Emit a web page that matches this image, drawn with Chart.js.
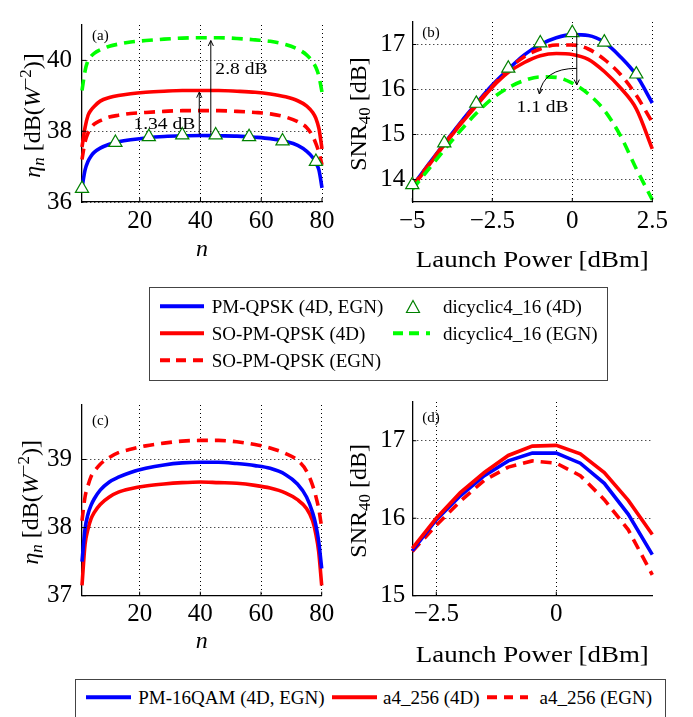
<!DOCTYPE html>
<html>
<head>
<meta charset="utf-8">
<script src="https://cdn.jsdelivr.net/npm/chart.js@4.4.1/dist/chart.umd.min.js"></script>
<style>
body{margin:0;background:#fff;}
#wrap{position:relative;width:693px;height:717px;overflow:hidden;font-family:"Liberation Serif",serif;}
canvas{position:absolute;}
.box{position:absolute;border:1px solid #444;box-sizing:border-box;}
.lt{position:absolute;font-size:19px;line-height:1;white-space:nowrap;transform:translateY(-50%);color:#000;}
.ls{position:absolute;height:3.5px;transform:translateY(-50%);}
</style>
</head>
<body>
<div id="wrap">
<canvas id="cA" width="340" height="280" style="left:0;top:0"></canvas>
<canvas id="cB" width="353" height="280" style="left:340px;top:0"></canvas>
<canvas id="cC" width="340" height="290" style="left:0;top:380px"></canvas>
<canvas id="cD" width="353" height="290" style="left:340px;top:380px"></canvas>
<div class="box" style="left:149px;top:287px;width:459px;height:94px"></div>
<div class="box" style="left:75px;top:679px;width:591px;height:60px"></div>
</div>
<script>
const FONT = 'Liberation Serif'

// (a) eta_n vs channel index
const nA = [1,2,3,4,5,7,10,13,17,22,28,34,40,46,52,58,63,68,72,75,77,78,79,80]
const etaPmQpsk = [36.4,36.9,37.15,37.3,37.4,37.52,37.63,37.7,37.76,37.81,37.85,37.87,37.88,37.87,37.86,37.83,37.79,37.71,37.6,37.43,37.25,37.1,36.9,36.4]
const etaSo4D = [37.55,38.1,38.45,38.6,38.7,38.85,38.95,39.01,39.06,39.1,39.13,39.15,39.15,39.15,39.13,39.1,39.05,38.97,38.86,38.71,38.52,38.36,38.07,37.5]
const etaSoEgn = [37.2,37.7,37.95,38.1,38.2,38.3,38.4,38.45,38.5,38.53,38.56,38.58,38.58,38.58,38.56,38.53,38.49,38.4,38.27,38.1,37.85,37.65,37.4,37.05]
const etaDiEgn = [39.15,39.7,40.0,40.12,40.2,40.3,40.4,40.46,40.52,40.56,40.6,40.63,40.64,40.64,40.62,40.58,40.54,40.45,40.32,40.15,39.95,39.8,39.55,39.1]
const nMarks = [1,12,23,34,45,56,67,78]
const etaDi4D = [36.38,37.68,37.84,37.89,37.89,37.84,37.72,37.14]

// (b) SNR vs launch power
const powB = [-5,-4.5,-4,-3.5,-3,-2.5,-2,-1.5,-1,-0.5,0,0.5,1,1.5,2,2.5]
const snrPmQpsk = [13.85,14.33,14.8,15.26,15.69,16.1,16.45,16.77,17.0,17.15,17.22,17.2,17.05,16.73,16.32,15.7]
const snrSo4D = [13.82,14.3,14.77,15.22,15.64,16.05,16.38,16.6,16.75,16.8,16.78,16.67,16.4,16.04,15.57,14.68]
const snrSoEgn = [13.85,14.32,14.79,15.24,15.67,16.07,16.45,16.73,16.9,16.99,16.99,16.9,16.67,16.34,15.87,15.27]
const snrDiEgn = [13.78,14.22,14.66,15.08,15.47,15.8,16.04,16.2,16.28,16.27,16.14,15.9,15.54,14.98,14.24,13.55]
const powMarks = [-5,-4,-3,-2,-1,0,1,2]
const snrDi4D = [13.88,14.81,15.69,16.47,17.03,17.26,17.05,16.34]

// (c) eta_n, 16QAM family
const etaPm16 = [37.5,37.98,38.2,38.33,38.42,38.55,38.67,38.74,38.81,38.87,38.92,38.95,38.96,38.96,38.94,38.91,38.87,38.78,38.64,38.45,38.22,38.05,37.8,37.4]
const etaA44D = [37.15,37.75,37.98,38.13,38.22,38.34,38.45,38.52,38.57,38.61,38.64,38.66,38.67,38.66,38.65,38.62,38.58,38.51,38.41,38.28,38.1,37.92,37.65,37.15]
const etaA4Egn = [38.1,38.45,38.62,38.75,38.82,38.93,39.03,39.1,39.15,39.2,39.24,39.27,39.28,39.28,39.26,39.22,39.17,39.09,38.99,38.83,38.62,38.47,38.28,38.0]

// (d) SNR, 16QAM family
const powD = [-3,-2.5,-2,-1.5,-1,-0.5,0,0.5,1,1.5,2]
const snrPm16 = [15.58,15.98,16.29,16.55,16.74,16.84,16.84,16.71,16.45,16.05,15.53]
const snrA44D = [15.61,16.0,16.33,16.59,16.81,16.93,16.94,16.83,16.59,16.23,15.79]
const snrA4Egn = [15.57,15.91,16.22,16.49,16.66,16.74,16.71,16.55,16.24,15.85,15.27]

// tick values
const ticksNx = [20,40,60,80]
const ticksAy = [36,38,40]
const ticksBx = [-5,-2.5,0,2.5]
const ticksBy = [14,15,16,17]
const ticksCy = [37,38,39]
const ticksDx = [-2.5,0]
const ticksDy = [15,16,17]

const legendTop = ['PM-QPSK (4D, EGN)','SO-PM-QPSK (4D)','SO-PM-QPSK (EGN)','dicyclic4_16 (4D)','dicyclic4_16 (EGN)']
const legendBottom = ['PM-16QAM (4D, EGN)','a4_256 (4D)','a4_256 (EGN)']

const BLUE = '#0000ff', RED = '#ff0000', LGREEN = '#00ff00', DGREEN = '#008000'

function pts(xs, ys) { return xs.map((x, i) => ({x: x, y: ys[i]})) }

function linha(label, xs, ys, cor, tracejada, ordem, reta) {
    return {
        label: label, data: pts(xs, ys), borderColor: cor, borderWidth: 3.6,
        borderDash: tracejada ? [11, 7] : [], pointRadius: 0, fill: false,
        cubicInterpolationMode: reta ? 'default' : 'monotone', tension: 0,
        clip: false, order: ordem
    }
}

function marcas(label, xs, ys) {
    return {
        label: label, data: pts(xs, ys), showLine: false, pointStyle: 'triangle',
        pointRadius: 7.6, pointBackgroundColor: '#fff', pointBorderColor: DGREEN,
        pointBorderWidth: 1.2, clip: false, order: 0
    }
}

function fmt(v) { return v < 0 ? '\u2212' + Math.abs(v) : String(v) }

function eixos(xMin, xMax, xTicks, yMin, yMax, yTicks, largura, altura, padY) {
    const base = () => ({
        type: 'linear',
        grid: {color: '#000', lineWidth: 1, drawTicks: false},
        border: {display: true, color: '#000', width: 1.3, dash: [1, 3]},
    })
    const tk = (pad) => ({font: {family: FONT, size: 25}, color: '#000', autoSkip: false, maxRotation: 0, minRotation: 0, padding: pad, callback: fmt})
    return {
        x: Object.assign(base(), {position: 'bottom', min: xMin, max: xMax, ticks: tk(4),
            afterBuildTicks: s => { s.ticks = xTicks.map(v => ({value: v})) },
            afterFit: s => { s.height = altura }}),
        y: Object.assign(base(), {position: 'left', min: yMin, max: yMax, ticks: tk(padY),
            afterBuildTicks: s => { s.ticks = yTicks.map(v => ({value: v})) },
            afterFit: s => { s.width = largura }})
    }
}

function fonte(p) { return (p.i ? 'italic ' : '') + Math.round((p.s || 1) * 24) + 'px ' + FONT }

function textoRico(ctx, partes, cx, cy, girar, esticar) {
    let w = 0
    partes.forEach(p => { ctx.font = fonte(p); p.w = ctx.measureText(p.t).width; w += p.w })
    ctx.save()
    ctx.translate(cx, cy)
    if (girar) ctx.rotate(-Math.PI / 2)
    ctx.scale(esticar || 1, 1)
    ctx.textAlign = 'left'
    ctx.textBaseline = 'alphabetic'
    let x = -w / 2
    partes.forEach(p => { ctx.font = fonte(p); ctx.fillText(p.t, x, 8 + (p.dy || 0)); x += p.w })
    ctx.restore()
}

function ponta(ctx, x1, y1, x2, y2) {
    const ang = Math.atan2(y2 - y1, x2 - x1), L = 6, a = 0.45
    ctx.beginPath()
    ctx.moveTo(x2 - L * Math.cos(ang - a), y2 - L * Math.sin(ang - a))
    ctx.lineTo(x2, y2)
    ctx.lineTo(x2 - L * Math.cos(ang + a), y2 - L * Math.sin(ang + a))
    ctx.stroke()
}

const decor = {
    id: 'decor',
    afterDraw(chart, args, o) {
        const ctx = chart.ctx, a = chart.chartArea
        const sx = chart.scales.x, sy = chart.scales.y
        const X = v => sx.getPixelForValue(v), Y = v => sy.getPixelForValue(v)
        ctx.save()
        ctx.fillStyle = '#000'
        ctx.strokeStyle = '#000'
        // pequenas marcas para dentro nos ticks principais
        ctx.lineWidth = 1
        ctx.beginPath()
        sx.ticks.forEach(t => { ctx.moveTo(X(t.value), a.bottom); ctx.lineTo(X(t.value), a.bottom - 4) })
        sy.ticks.forEach(t => { ctx.moveTo(a.left, Y(t.value)); ctx.lineTo(a.left + 4, Y(t.value)) })
        ctx.stroke()
        ctx.font = '15px ' + FONT
        ctx.textAlign = 'left'
        ctx.textBaseline = 'middle'
        ctx.fillText(o.painel, a.left + 10, a.top + o.painelDy)
        ;(o.notas || []).forEach(n => {
            if (n.seta) {
                const [x1, y1, x2, y2] = n.seta
                ctx.beginPath(); ctx.moveTo(X(x1), Y(y1)); ctx.lineTo(X(x2), Y(y2)); ctx.stroke()
                ponta(ctx, X(x1), Y(y1), X(x2), Y(y2))
            } else if (n.curva) {
                const [x1, y1, cx, cy, x2, y2] = n.curva
                ctx.beginPath(); ctx.moveTo(X(x1), Y(y1)); ctx.quadraticCurveTo(X(cx), Y(cy), X(x2), Y(y2)); ctx.stroke()
                ponta(ctx, X(cx), Y(cy), X(x2), Y(y2))
            } else if (n.texto) {
                ctx.save()
                ctx.translate(X(n.x), Y(n.y))
                ctx.scale(1.15, 1)
                ctx.font = '17px ' + FONT
                ctx.textAlign = n.alinha
                ctx.textBaseline = 'middle'
                ctx.fillText(n.texto, 0, 0)
                ctx.restore()
            }
        })
        textoRico(ctx, o.tituloY, a.left - o.tituloYDx, (a.top + a.bottom) / 2 + 2, true, 1)
        textoRico(ctx, o.tituloX, (a.left + a.right) / 2, a.bottom + o.tituloXDy, false, o.esticarX || 1)
        ctx.restore()
    }
}

const tituloEta = [{t: '\u03b7', i: true}, {t: 'n', i: true, s: 0.7, dy: 4}, {t: ' [dB('}, {t: 'W', i: true}, {t: '\u22122', s: 0.7, dy: -9}, {t: ')]'}]
const tituloSnr = [{t: 'SNR'}, {t: '40', s: 0.7, dy: 4}, {t: ' [dB]'}]
const tituloN = [{t: 'n', i: true}]
const tituloP = [{t: 'Launch Power [dBm]'}]

function grafico(id, datasets, scales, padding, decorOpts) {
    return new Chart(document.getElementById(id), {
        type: 'line',
        data: {datasets: datasets},
        options: {
            responsive: false, animation: false,
            layout: {padding: padding},
            scales: scales,
            plugins: {legend: {display: false}, tooltip: {enabled: false}, decor: decorOpts}
        },
        plugins: [decor]
    })
}

grafico('cA', [
    marcas(legendTop[3], nMarks, etaDi4D),
    linha(legendTop[4], nA, etaDiEgn, LGREEN, true, 1),
    linha(legendTop[2], nA, etaSoEgn, RED, true, 2),
    linha(legendTop[1], nA, etaSo4D, RED, false, 3),
    linha(legendTop[0], nA, etaPmQpsk, BLUE, false, 4)
], eixos(1, 80, ticksNx, 36, 41, ticksAy, 82, 78, 10), {top: 0, right: 18, left: 0, bottom: 0}, {
    painel: '(a)', painelDy: 11.5, tituloY: tituloEta, tituloYDx: 50, tituloX: tituloN, tituloXDy: 46,
    notas: [
        {seta: [39.6, 37.91, 39.6, 39.1]},
        {seta: [43.4, 37.91, 43.4, 40.56]},
        {texto: '1.34 dB', x: 38.3, y: 38.2, alinha: 'right'},
        {texto: '2.8 dB', x: 44.9, y: 39.73, alinha: 'left'}
    ]
})

grafico('cB', [
    marcas(legendTop[3], powMarks, snrDi4D),
    linha(legendTop[4], powB, snrDiEgn, LGREEN, true, 1),
    linha(legendTop[2], powB, snrSoEgn, RED, true, 2),
    linha(legendTop[1], powB, snrSo4D, RED, false, 3),
    linha(legendTop[0], powB, snrPmQpsk, BLUE, false, 4)
], eixos(-5, 2.5, ticksBx, 13.5, 17.5, ticksBy, 72.3, 78, 7), {top: 0, right: 40.7, left: 0, bottom: 0}, {
    painel: '(b)', painelDy: 11.5, tituloY: tituloSnr, tituloYDx: 54, tituloX: tituloP, tituloXDy: 57, esticarX: 1.12,
    notas: [
        {seta: [0.14, 17.25, 0.14, 16.1]},
        {curva: [0.14, 16.47, -0.91, 16.47, -1.03, 15.9]},
        {texto: '1.1 dB', x: -0.93, y: 15.59, alinha: 'center'}
    ]
})

grafico('cC', [
    linha(legendBottom[2], nA, etaA4Egn, RED, true, 3),
    linha(legendBottom[0], nA, etaPm16, BLUE, false, 1),
    linha(legendBottom[1], nA, etaA44D, RED, false, 2)
], eixos(1, 80, ticksNx, 37, 39.8, ticksCy, 82, 74.3, 10), {top: 15, right: 18.3, left: 0, bottom: 0}, {
    painel: '(c)', painelDy: 16.5, tituloY: tituloEta, tituloYDx: 52, tituloX: tituloN, tituloXDy: 44
})

grafico('cD', [
    linha(legendBottom[2], powD, snrA4Egn, RED, true, 3, true),
    linha(legendBottom[0], powD, snrPm16, BLUE, false, 2, true),
    linha(legendBottom[1], powD, snrA44D, RED, false, 1, true)
], eixos(-3, 2, ticksDx, 15, 17.5, ticksDy, 72.3, 74.3, 7), {top: 15, right: 40.7, left: 0, bottom: 0}, {
    painel: '(d)', painelDy: 16.5, tituloY: tituloSnr, tituloYDx: 54, tituloX: tituloP, tituloXDy: 58, esticarX: 1.12
})

// legendas em HTML
const wrap = document.getElementById('wrap')
function legLinha(x1, x2, cy, cor, tracejada) {
    const d = document.createElement('div')
    d.className = 'ls'
    d.style.left = x1 + 'px'; d.style.width = (x2 - x1) + 'px'; d.style.top = cy + 'px'
    d.style.background = tracejada ? `repeating-linear-gradient(90deg, ${cor} 0 10px, transparent 10px 16.5px)` : cor
    wrap.appendChild(d)
}
function legTexto(x, cy, t) {
    const d = document.createElement('div')
    d.className = 'lt'
    d.style.left = x + 'px'; d.style.top = cy + 'px'
    d.textContent = t
    wrap.appendChild(d)
}
function legTriangulo(cx, cy) {
    const ns = 'http://www.w3.org/2000/svg'
    const s = document.createElementNS(ns, 'svg')
    s.setAttribute('width', 16); s.setAttribute('height', 15)
    s.style.position = 'absolute'; s.style.left = (cx - 8) + 'px'; s.style.top = (cy - 7.5) + 'px'
    const p = document.createElementNS(ns, 'polygon')
    p.setAttribute('points', '8,1.5 14.5,13.5 1.5,13.5')
    p.setAttribute('fill', 'none'); p.setAttribute('stroke', DGREEN); p.setAttribute('stroke-width', '1.2')
    s.appendChild(p)
    wrap.appendChild(s)
}

legLinha(160, 204, 306, BLUE, false); legTexto(211.7, 306, legendTop[0])
legLinha(160, 204, 333, RED, false); legTexto(211.7, 333, legendTop[1])
legLinha(160, 204, 360, RED, true); legTexto(211.7, 360, legendTop[2])
legTriangulo(413, 306); legTexto(443, 306, legendTop[3])
legLinha(393, 430, 333, LGREEN, true); legTexto(443, 333, legendTop[4])

legLinha(86, 130.7, 697, BLUE, false); legTexto(138.3, 697, legendBottom[0])
legLinha(331.7, 377, 697, RED, false); legTexto(383, 697, legendBottom[1])
legLinha(487, 527.5, 697, RED, true); legTexto(539.6, 697, legendBottom[2])
</script>
</body>
</html>
